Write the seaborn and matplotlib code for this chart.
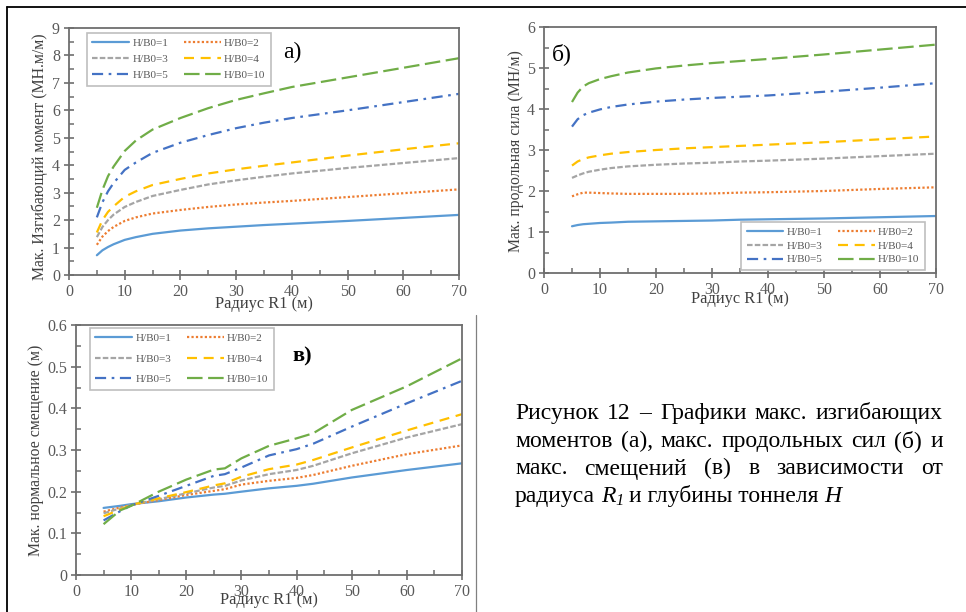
import matplotlib
matplotlib.use("Agg")
import matplotlib.pyplot as plt
import numpy as np
import pandas as pd
import seaborn as sns
from matplotlib.ticker import MultipleLocator
from matplotlib.lines import Line2D

# ---------------- data ----------------
series_labels = ["H/B0=1", "H/B0=2", "H/B0=3", "H/B0=4", "H/B0=5", "H/B0=10"]

R1 = [5, 6, 7, 8, 10, 12, 15, 20, 25, 30, 35, 40, 50, 60, 70]

moment_h1 = [0.72, 0.90, 1.02, 1.12, 1.28, 1.38, 1.50, 1.62, 1.70, 1.76, 1.82, 1.87, 1.97, 2.08, 2.19]
moment_h2 = [1.10, 1.40, 1.60, 1.75, 1.97, 2.10, 2.24, 2.37, 2.48, 2.57, 2.64, 2.70, 2.84, 2.98, 3.12]
moment_h3 = [1.38, 1.75, 2.00, 2.20, 2.48, 2.66, 2.88, 3.10, 3.30, 3.45, 3.58, 3.70, 3.90, 4.08, 4.26]
moment_h4 = [1.55, 2.00, 2.30, 2.50, 2.85, 3.05, 3.28, 3.50, 3.70, 3.85, 3.98, 4.10, 4.35, 4.58, 4.80]
moment_h5 = [2.10, 2.65, 3.05, 3.35, 3.83, 4.10, 4.45, 4.82, 5.10, 5.35, 5.55, 5.72, 6.00, 6.30, 6.60]
moment_h10 = [2.45, 3.10, 3.60, 3.95, 4.52, 4.90, 5.30, 5.72, 6.08, 6.38, 6.62, 6.85, 7.20, 7.55, 7.90]

force_h1 = [1.14, 1.17, 1.19, 1.20, 1.22, 1.23, 1.25, 1.26, 1.27, 1.28, 1.30, 1.31, 1.33, 1.36, 1.39]
force_h2 = [1.87, 1.92, 1.96, 1.96, 1.95, 1.94, 1.93, 1.93, 1.93, 1.94, 1.96, 1.97, 2.00, 2.05, 2.09]
force_h3 = [2.32, 2.38, 2.43, 2.47, 2.52, 2.56, 2.60, 2.64, 2.67, 2.69, 2.72, 2.74, 2.79, 2.85, 2.91]
force_h4 = [2.62, 2.72, 2.78, 2.82, 2.87, 2.91, 2.95, 3.00, 3.04, 3.07, 3.10, 3.13, 3.19, 3.26, 3.33]
force_h5 = [3.57, 3.75, 3.85, 3.91, 3.99, 4.05, 4.11, 4.18, 4.23, 4.27, 4.30, 4.33, 4.42, 4.52, 4.63]
force_h10 = [4.17, 4.40, 4.55, 4.63, 4.73, 4.80, 4.89, 4.99, 5.06, 5.12, 5.17, 5.22, 5.33, 5.45, 5.57]

R1_disp = [5, 8, 10, 15, 20, 25, 27, 30, 35, 40, 43, 50, 60, 70]
disp_h1 = [0.161, 0.166, 0.170, 0.177, 0.186, 0.193, 0.195, 0.200, 0.208, 0.214, 0.219, 0.234, 0.252, 0.268]
disp_h2 = [0.152, 0.162, 0.168, 0.180, 0.192, 0.202, 0.206, 0.217, 0.226, 0.233, 0.240, 0.262, 0.290, 0.311]
disp_h3 = [0.148, 0.160, 0.168, 0.182, 0.196, 0.210, 0.214, 0.227, 0.242, 0.252, 0.262, 0.292, 0.330, 0.362]
disp_h4 = [0.141, 0.157, 0.168, 0.184, 0.199, 0.215, 0.220, 0.236, 0.254, 0.265, 0.276, 0.306, 0.347, 0.386]
disp_h5 = [0.131, 0.153, 0.167, 0.190, 0.214, 0.238, 0.242, 0.258, 0.287, 0.302, 0.315, 0.356, 0.412, 0.466]
disp_h10 = [0.122, 0.155, 0.166, 0.200, 0.229, 0.253, 0.256, 0.280, 0.310, 0.328, 0.340, 0.396, 0.453, 0.520]

x_ticks = [0, 10, 20, 30, 40, 50, 60, 70]

caption_lines = [
    "Рисунок 12 – Графики макс. изгибающих",
    "моментов (а), макс. продольных сил (б) и",
    "макс. смещений (в) в зависимости от",
]

# ---------------- style ----------------
sns.set_style("white")
plt.rcParams["font.family"] = ["Liberation Serif", "DejaVu Serif"]

colors = ["#5B9BD5", "#ED7D31", "#A5A5A5", "#FFC000", "#4472C4", "#70AD47"]
dash_list = ["", (1, 1), (2.5, 1), (4.5, 3), (5, 2.5, 1.2, 2.5), (7, 2.5)]
palette = dict(zip(series_labels, colors))
dashes = dict(zip(series_labels, dash_list))

SP = "#6E6E6E"
TK = "#595959"
LBL = 11.3
XLBL = 11.8

W, H = 966, 612
fig = plt.figure(figsize=(W / 100, H / 100), dpi=100)


def make_df(x, ys):
    frames = []
    for lab, y in zip(series_labels, ys):
        frames.append(pd.DataFrame({"R1": x, "val": y, "series": lab}))
    return pd.concat(frames, ignore_index=True)


def axes_px(l, t, r, b):
    return fig.add_axes([l / W, 1 - b / H, (r - l) / W, (b - t) / H])


def style_axes(ax, ymax, ymajor, yminor, yfmt=None):
    ax.set_xlim(0, 70)
    ax.set_ylim(0, ymax)
    ax.set_xticks(x_ticks)
    ax.xaxis.set_minor_locator(MultipleLocator(5))
    ax.yaxis.set_major_locator(MultipleLocator(ymajor))
    ax.yaxis.set_minor_locator(MultipleLocator(yminor))
    if yfmt:
        ax.yaxis.set_major_formatter(yfmt)
    for s in ax.spines.values():
        s.set_color(SP)
        s.set_linewidth(1.3)
        s.set_visible(True)
    ax.tick_params(which="major", direction="inout", length=7, width=1.2,
                   color=SP, labelsize=11.5, labelcolor=TK, pad=3)
    ax.tick_params(which="minor", direction="in", length=3.5, width=1.1, color=SP)
    ax.tick_params(axis="both", which="both", bottom=True, left=True, top=False, right=False)


def add_legend(ax, loc, anchor, spacing):
    handles = []
    for c, d, lab in zip(colors, dash_list, series_labels):
        ls = "-" if d == "" else (0, d)
        handles.append(Line2D([], [], color=c, lw=1.6, linestyle=ls, label=lab))
    order = [0, 2, 4, 1, 3, 5]
    leg = ax.legend([handles[i] for i in order], [series_labels[i] for i in order],
                    ncol=2, loc=loc, bbox_to_anchor=anchor, borderaxespad=0,
                    fontsize=8, frameon=True, fancybox=False, framealpha=1,
                    edgecolor="#BFBFBF", handlelength=3.3, handletextpad=0.3,
                    columnspacing=1.4, labelspacing=spacing, borderpad=0.5)
    leg.get_frame().set_linewidth(1.2)
    for t in leg.get_texts():
        t.set_color(TK)
    return leg


def draw_panel(ax, x, ys):
    df = make_df(x, ys)
    sns.lineplot(data=df, x="R1", y="val", hue="series", style="series",
                 palette=palette, dashes=dashes, linewidth=1.6, errorbar=None,
                 legend=False, ax=ax)


# ---- panel a ----
axA = axes_px(69, 28, 459, 275)
draw_panel(axA, R1, [moment_h1, moment_h2, moment_h3, moment_h4, moment_h5, moment_h10])
style_axes(axA, 9, 1, 0.5)
axA.set_xlabel("Радиус R1 (м)", fontsize=XLBL, color="#404040")
axA.set_ylabel("Мак. Изгибающий момент (МН.м/м)", fontsize=LBL, color="#404040")
axA.xaxis.set_label_coords(0.5, -0.085)
axA.yaxis.set_label_coords(-0.054, 0.48)
add_legend(axA, "upper left", (0.046, 0.98), 0.55)
axA.text(0.55, 0.90, "а)", transform=axA.transAxes, fontsize=17, ha="left", va="center", color="black")

# ---- panel b ----
axB = axes_px(544, 27, 936, 273)
draw_panel(axB, R1, [force_h1, force_h2, force_h3, force_h4, force_h5, force_h10])
style_axes(axB, 6, 1, 0.5)
axB.set_xlabel("Радиус R1 (м)", fontsize=XLBL, color="#404040")
axB.set_ylabel("Мак. продольная сила (МН/м)", fontsize=LBL, color="#404040")
axB.xaxis.set_label_coords(0.5, -0.075)
axB.yaxis.set_label_coords(-0.051, 0.496)
add_legend(axB, "lower right", (0.972, 0.012), 0.35)
axB.text(0.02, 0.89, "б)", transform=axB.transAxes, fontsize=17, ha="left", va="center", color="black")

# ---- panel c ----
axC = axes_px(76, 325, 462, 575)
draw_panel(axC, R1_disp, [disp_h1, disp_h2, disp_h3, disp_h4, disp_h5, disp_h10])
style_axes(axC, 0.6, 0.1, 0.05, yfmt=matplotlib.ticker.FuncFormatter(lambda v, p: "0" if abs(v) < 1e-9 else f"{v:.1f}"))
axC.set_xlabel("Радиус R1 (м)", fontsize=XLBL, color="#404040")
axC.set_ylabel("Мак. нормальное смещение (м)", fontsize=LBL, color="#404040")
axC.xaxis.set_label_coords(0.5, -0.07)
axC.yaxis.set_label_coords(-0.083, 0.5)
add_legend(axC, "upper left", (0.036, 0.988), 0.95)
axC.text(0.56, 0.875, "в)", transform=axC.transAxes, fontsize=16, fontweight="bold",
         ha="left", va="center", color="black")

# ---- frame lines ----
fig.add_artist(Line2D([7 / W, 1], [1 - 7 / H, 1 - 7 / H], transform=fig.transFigure, color="black", lw=1.3))
fig.add_artist(Line2D([7 / W, 7 / W], [1 - 7 / H, 0], transform=fig.transFigure, color="black", lw=1.3))
fig.add_artist(Line2D([476 / W, 476 / W], [1 - 315 / H, 0], transform=fig.transFigure, color="#808080", lw=0.9))

# ---- caption (justified) ----
fig.canvas.draw()
rend = fig.canvas.get_renderer()
FS = 17
xl, xr = 515, 943
bases = [419, 447, 474.5, 502]


def wpx(t):
    return t.get_window_extent(rend).width


for i, line in enumerate(caption_lines):
    words = line.split(" ")
    texts = [fig.text(0, 1 - bases[i] / H, w, fontsize=FS, color="black", va="baseline", ha="left")
             for w in words]
    widths = [wpx(t) for t in texts]
    gap = (xr - xl - sum(widths)) / (len(words) - 1)
    x = xl
    for t, w in zip(texts, widths):
        t.set_x(x / W)
        x += w + gap

# space width
tmp1 = fig.text(0, 0, "и и", fontsize=FS)
tmp2 = fig.text(0, 0, "ии", fontsize=FS)
sp = wpx(tmp1) - wpx(tmp2)
tmp1.remove(); tmp2.remove()

segments = [
    ("радиуса", dict(fontsize=FS), 0, sp),
    ("R", dict(fontsize=FS, style="italic"), 0, 0),
    ("1", dict(fontsize=FS * 0.7, style="italic"), -3, sp),
    ("и глубины тоннеля", dict(fontsize=FS), 0, sp),
    ("H", dict(fontsize=FS, style="italic"), 0, 0),
]
x = xl
for txt, kw, dy, after in segments:
    t = fig.text(x / W, 1 - (bases[3] - dy) / H, txt, color="black", va="baseline", ha="left", **kw)
    x += wpx(t) + after

fig.savefig("out.png", dpi=100)
